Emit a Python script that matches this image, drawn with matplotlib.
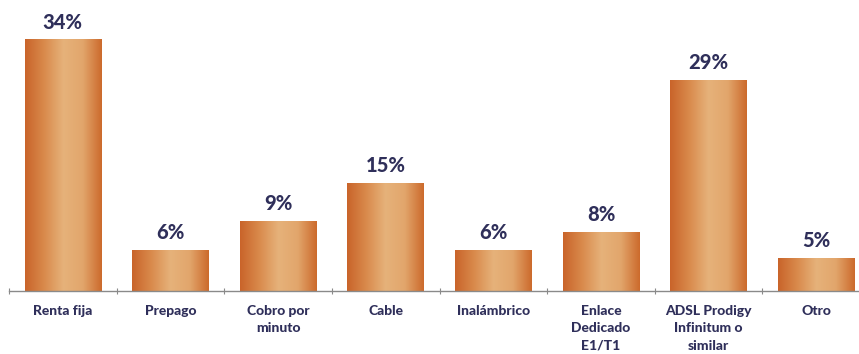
import numpy as np
import matplotlib.pyplot as plt
from matplotlib.colors import LinearSegmentedColormap
from matplotlib.patches import Rectangle

categories = ["Renta fija", "Prepago", "Cobro por\nminuto", "Cable",
              "Inalámbrico", "Enlace\nDedicado\nE1/T1",
              "ADSL Prodigy\nInfinitum o\nsimilar", "Otro"]
# bar heights
values = [34, 5.6, 9.5, 14.6, 5.6, 8.0, 28.5, 4.5]
labels = ["34%", "6%", "9%", "15%", "6%", "8%", "29%", "5%"]

text_color = "#2f2f5a"
bar_cmap = LinearSegmentedColormap.from_list(
    "copper_bar", ["#c9642a", "#d98a4c", "#e6b27a", "#e2a66c", "#cc6a2c"])

fig = plt.figure(figsize=(8.59, 3.54), dpi=100)
ax = fig.add_axes([9 / 859, 63 / 354, 861 / 859, 281.6 / 354])
ax.set_xlim(-0.5, len(categories) - 0.5)
ax.set_ylim(0, 38)

width = 0.71
grad = np.linspace(0, 1, 256).reshape(1, -1)
for i, v in enumerate(values):
    x0 = i - width / 2
    rect = Rectangle((x0, 0), width, v, facecolor="none", edgecolor="none")
    ax.add_patch(rect)
    im = ax.imshow(grad, cmap=bar_cmap, aspect="auto",
                   extent=(x0, x0 + width, 0, v), zorder=2)
    im.set_clip_path(rect)
    ax.text(i, v + 1.0, labels[i], ha="center", va="bottom",
            fontsize=14.5, fontweight="black", color=text_color,
            family="Lato")

for s in ["top", "right", "left"]:
    ax.spines[s].set_visible(False)
ax.spines["bottom"].set_color("#8a8a8a")
ax.spines["bottom"].set_linewidth(1.0)
ax.set_yticks([])

ax.set_xticks(np.arange(-0.5, len(categories), 1.0))
ax.set_xticklabels([])
ax.tick_params(axis="x", length=4, color="#8a8a8a", direction="inout")
ax.set_xticks(np.arange(len(categories)), minor=True)
ax.set_xticklabels(categories, minor=True, fontsize=10, fontweight="black",
                   color=text_color, family="Lato", linespacing=1.55)
ax.tick_params(axis="x", which="minor", length=0, pad=10)

fig.savefig("out.png", dpi=100)
